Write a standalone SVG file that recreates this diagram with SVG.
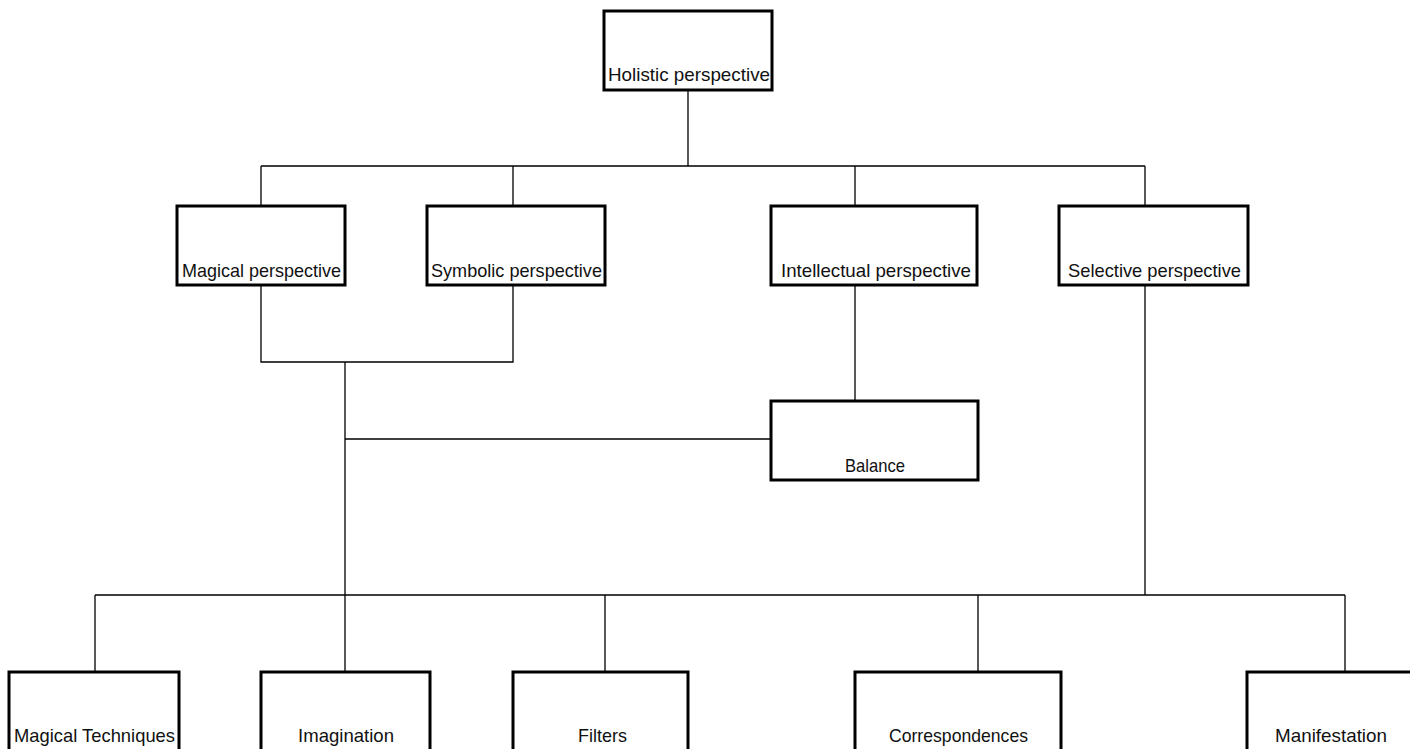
<svg xmlns="http://www.w3.org/2000/svg" width="1410" height="749" viewBox="0 0 1410 749">
<style>
.box{fill:#fff;stroke:#000;stroke-width:3}
.lbl{font-family:"Liberation Sans",Arial,sans-serif;font-size:19px;fill:#111}
.c{fill:none;stroke:#000;stroke-width:1.3}
</style>
<rect width="1410" height="749" fill="#fff"/>
<g id="connectors">
<path class="c" d="M688 90V166M261 166H1145M261 166V206M513 166V206M855 166V206M1145 166V206"/>
<path class="c" d="M261 285V362H513V285M345 362V595M345 439H771M855 285V401M1145 285V595"/>
<path class="c" d="M95 595H1345M95 595V672M345 595V672M605 595V672M978 595V672M1345 595V672"/>
</g>
<g id="holistic"><rect class="box" x="604" y="11" width="168" height="79"/><text class="lbl" x="608" y="81" textLength="162" lengthAdjust="spacingAndGlyphs">Holistic perspective</text></g>
<g id="magical"><rect class="box" x="177" y="206" width="168" height="79"/><text class="lbl" x="182" y="277" textLength="159" lengthAdjust="spacingAndGlyphs">Magical perspective</text></g>
<g id="symbolic"><rect class="box" x="427" y="206" width="178" height="79"/><text class="lbl" x="431" y="277" textLength="171" lengthAdjust="spacingAndGlyphs">Symbolic perspective</text></g>
<g id="intellectual"><rect class="box" x="771" y="206" width="206" height="79"/><text class="lbl" x="781" y="277" textLength="190" lengthAdjust="spacingAndGlyphs">Intellectual perspective</text></g>
<g id="selective"><rect class="box" x="1059" y="206" width="189" height="79"/><text class="lbl" x="1068" y="277" textLength="173" lengthAdjust="spacingAndGlyphs">Selective perspective</text></g>
<g id="balance"><rect class="box" x="771" y="401" width="207" height="79"/><text class="lbl" x="845" y="472" textLength="60" lengthAdjust="spacingAndGlyphs">Balance</text></g>
<g id="techniques"><rect class="box" x="9" y="672" width="170" height="90"/><text class="lbl" x="14" y="742" textLength="161" lengthAdjust="spacingAndGlyphs">Magical Techniques</text></g>
<g id="imagination"><rect class="box" x="261" y="672" width="169" height="90"/><text class="lbl" x="298" y="742" textLength="96" lengthAdjust="spacingAndGlyphs">Imagination</text></g>
<g id="filters"><rect class="box" x="513" y="672" width="175" height="90"/><text class="lbl" x="578" y="742" textLength="49" lengthAdjust="spacingAndGlyphs">Filters</text></g>
<g id="correspondences"><rect class="box" x="855" y="672" width="206" height="90"/><text class="lbl" x="889" y="742" textLength="139" lengthAdjust="spacingAndGlyphs">Correspondences</text></g>
<g id="manifestation"><rect class="box" x="1247" y="672" width="180" height="90"/><text class="lbl" x="1275" y="742" textLength="112" lengthAdjust="spacingAndGlyphs">Manifestation</text></g>
</svg>
